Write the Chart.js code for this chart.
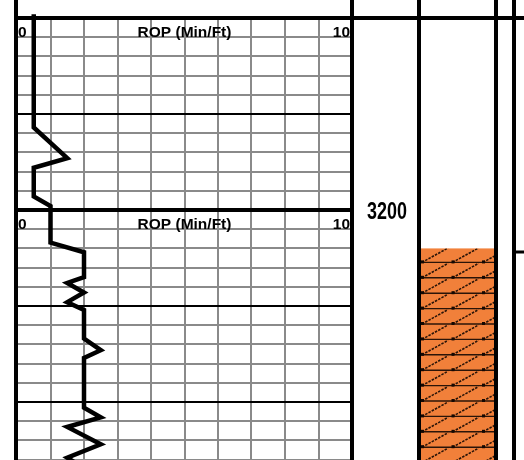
<!DOCTYPE html>
<html>
<head>
<meta charset="utf-8">
<script src="https://cdn.jsdelivr.net/npm/chart.js@4.4.0/dist/chart.umd.min.js"></script>
<style>
  html, body { margin: 0; padding: 0; background: #fff; }
  #wrap { width: 524px; height: 460px; }
</style>
</head>
<body>
<div id="wrap"><canvas id="mycanvas" width="524" height="460"></canvas></div>
<script>
// ROP curve: depth in ft, rate in min/ft
var depth = [3098, 3157, 3173, 3178, 3193, 3198, 3217, 3222, 3235, 3238, 3243, 3248, 3252,
             3267, 3273, 3277, 3303, 3308, 3313, 3322, 3329, 3340];
var rop   = [0.5, 0.5, 1.5, 0.5, 0.5, 1.0, 1.0, 2.0, 2.0, 1.5, 2.0, 1.5, 2.0,
             2.0, 2.5, 2.0, 2.0, 2.5, 1.5, 2.5, 1.5, 2.5];

var headerDepths = [3100, 3200];   // where the "0  ROP (Min/Ft)  10" header repeats
var depthLabels = [3200];
var lithTop = [3220];
var lithBottom = [3340];

var ropMin = 0, ropMax = 10;
var depthMin = 3100, depthMax = 3330.2;

// column edges of the log sheet (pixels)
var colLines = [16, 352, 419, 496, 514];
var lithLeft = 421, lithRight = 494;

var points = [];
for (var i = 0; i < depth.length; i++) {
  points.push({ x: rop[i], y: depth[i] });
}

var logFrame = {
  id: 'logFrame',
  afterDraw: function(chart) {
    var c = chart.ctx, xs = chart.scales.x, ys = chart.scales.y;
    var W = chart.width, H = chart.height;

    // lithology column
    c.save();
    var lt = ys.getPixelForValue(lithTop[0]);
    var lb = Math.min(ys.getPixelForValue(lithBottom[0]), H);
    c.fillStyle = 'rgb(241,128,58)';
    c.fillRect(lithLeft, lt, lithRight - lithLeft, lb - lt);
    c.beginPath();
    c.rect(lithLeft, lt, lithRight - lithLeft, lb - lt);
    c.clip();
    var step = 15.4;
    c.strokeStyle = '#2a1408';
    for (var yy = lt + 14; yy < lb + step; yy += step) {
      c.setLineDash([]);
      c.lineWidth = 1.4;
      c.beginPath();
      c.moveTo(lithLeft, yy);
      c.lineTo(lithRight, yy);
      c.stroke();
      c.setLineDash([2.5, 1.2]);
      c.lineWidth = 1.6;
      for (var xx = lithLeft + 1; xx < lithRight; xx += 30.5) {
        c.beginPath();
        c.moveTo(xx, yy);
        c.lineTo(xx + 26, yy - step + 1);
        c.stroke();
        c.fillStyle = '#140802';
        c.fillRect(xx - 1, yy - 2, 3, 3);
      }
    }
    c.restore();

    // sheet borders
    c.save();
    c.strokeStyle = '#000';
    c.lineWidth = 4;
    colLines.forEach(function(x) {
      c.beginPath();
      c.moveTo(x, 0);
      c.lineTo(x, H);
      c.stroke();
    });
    var top = ys.getPixelForValue(depthMin);
    c.beginPath();
    c.moveTo(14, top);
    c.lineTo(W, top);
    c.stroke();
    c.lineWidth = 3;
    c.beginPath();
    c.moveTo(514, 252);
    c.lineTo(W, 252);
    c.stroke();

    // track headers
    c.fillStyle = '#000';
    c.font = 'bold 15.5px "Liberation Sans", Arial, sans-serif';
    c.textBaseline = 'alphabetic';
    headerDepths.forEach(function(d) {
      var y = ys.getPixelForValue(d) + 19;
      var x0 = xs.getPixelForValue(ropMin), x1 = xs.getPixelForValue(ropMax);
      c.textAlign = 'left';
      c.fillText('0', x0 + 1, y);
      c.textAlign = 'center';
      c.fillText('ROP (Min/Ft)', (x0 + x1) / 2, y);
      c.textAlign = 'right';
      c.fillText('10', x1 - 2, y);
    });

    // depth column
    c.font = 'bold 23px "Liberation Sans", Arial, sans-serif';
    c.textAlign = 'left';
    depthLabels.forEach(function(d) {
      var y = ys.getPixelForValue(d);
      c.save();
      c.translate(367, y + 8.5);
      c.scale(0.78, 1);
      c.fillText(String(d), 0, 0);
      c.restore();
    });
    c.restore();
  }
};

var ctx = document.getElementById('mycanvas');

var ropChart = new Chart(ctx, {
  type: 'line',
  data: {
    datasets: [{
      label: 'ROP',
      data: points,
      borderColor: '#000',
      borderWidth: 4.5,
      pointRadius: 0,
      tension: 0,
      borderJoinStyle: 'miter',
      clip: { left: 0, top: 4, right: 0, bottom: 0 }
    }]
  },
  options: {
    responsive: false,
    animation: false,
    events: [],
    indexAxis: 'y',
    layout: { padding: { left: 17, right: 172, top: 18, bottom: 0 } },
    plugins: {
      legend: { display: false },
      tooltip: { enabled: false }
    },
    scales: {
      x: {
        type: 'linear',
        min: ropMin,
        max: ropMax,
        ticks: { display: false, stepSize: 1 },
        grid: { color: '#8a8a8a', lineWidth: 2, drawTicks: false },
        border: { display: false },
        afterFit: function(s) { s.height = 0; }
      },
      y: {
        type: 'linear',
        reverse: true,
        min: depthMin,
        max: depthMax,
        ticks: { display: false, stepSize: 10, includeBounds: false },
        grid: {
          drawTicks: false,
          color: function(c) { return c.tick.value % 50 === 0 ? '#000' : '#8a8a8a'; },
          lineWidth: function(c) {
            var v = c.tick.value;
            if (headerDepths.indexOf(v) >= 0) return 4;
            return 2;
          }
        },
        border: { display: false },
        afterFit: function(s) { s.width = 0; }
      }
    }
  },
  plugins: [logFrame]
});
</script>
</body>
</html>
